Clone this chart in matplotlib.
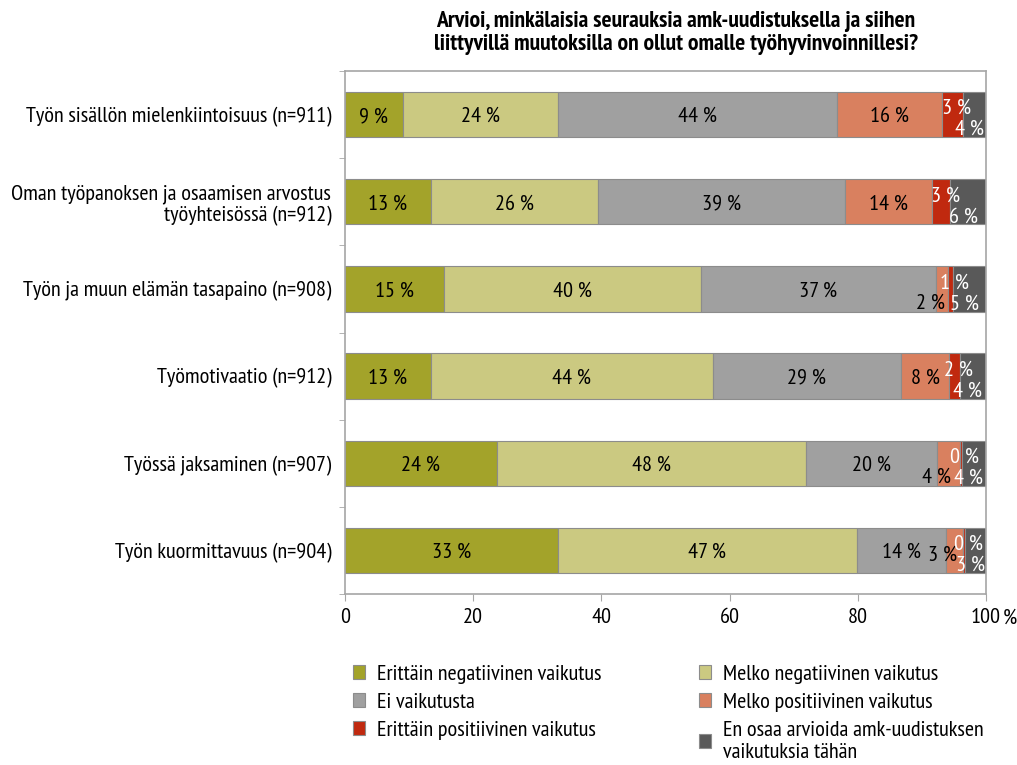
import matplotlib
matplotlib.use("Agg")
import matplotlib.pyplot as plt
from matplotlib.patches import Patch
import numpy as np

# Data
categories = [
    "Työn sisällön mielenkiintoisuus (n=911)",
    "Oman työpanoksen ja osaamisen arvostus\ntyöyhteisössä (n=912)",
    "Työn ja muun elämän tasapaino (n=908)",
    "Työmotivaatio (n=912)",
    "Työssä jaksaminen (n=907)",
    "Työn kuormittavuus (n=904)",
]
series_names = [
    "Erittäin negatiivinen vaikutus",
    "Melko negatiivinen vaikutus",
    "Ei vaikutusta",
    "Melko positiivinen vaikutus",
    "Erittäin positiivinen vaikutus",
    "En osaa arvioida amk-uudistuksen\nvaikutuksia tähän",
]
erittain_neg = [9.0, 13.4, 15.4, 13.4, 23.7, 33.2]
melko_neg = [24.2, 26.0, 40.1, 44.0, 48.2, 46.6]
ei_vaikutusta = [43.6, 38.6, 36.7, 29.3, 20.4, 13.9]
melko_pos = [16.4, 13.6, 1.9, 7.6, 3.6, 2.7]
erittain_pos = [3.2, 2.8, 0.8, 1.6, 0.3, 0.4]
en_osaa = [3.6, 5.6, 5.1, 4.1, 3.8, 3.2]
series = [erittain_neg, melko_neg, ei_vaikutusta, melko_pos, erittain_pos, en_osaa]

colors = ["#a3a32a", "#cbc981", "#a0a0a0", "#d9805f", "#c0290f", "#595959"]
text_colors = ["black", "black", "black", "black", "white", "white"]
title = "Arvioi, minkälaisia seurauksia amk-uudistuksella ja siihen\nliittyvillä muutoksilla on ollut omalle työhyvinvoinnillesi?"

plt.rcParams["font.family"] = ["PT Sans Narrow", "DejaVu Sans"]
plt.rcParams["font.size"] = 16

fig = plt.figure(figsize=(10.17, 7.65), dpi=100)
ax = fig.add_axes([345 / 1017, 1 - 594 / 765, 641 / 1017, 523 / 765])

y = np.arange(len(categories))
left = np.zeros(len(categories))
for k, vals in enumerate(series):
    vals = np.array(vals)
    ax.barh(y, vals, left=left, height=0.52, color=colors[k],
            edgecolor="#8c8c8c", linewidth=0.8, zorder=2)
    for i, v in enumerate(vals):
        cx = left[i] + v / 2
        dx, dy = 0, -2
        if k == 3 and v < 5:
            dx, dy = -12, -14 if i != 5 else -5
        elif k == 4:
            dx, dy = 4, 6
        elif k == 5:
            dx, dy = -5, -15
        ax.annotate(f"{v:.0f} %", xy=(cx, i), xytext=(dx, dy),
                    textcoords="offset pixels", ha="center", va="center",
                    color=text_colors[k], fontsize=16, zorder=3)
    left += vals

ax.set_xlim(0, 100)
ax.set_ylim(len(categories) - 0.5, -0.5)
ax.set_xticks([0, 20, 40, 60, 80, 100])
ax.set_yticks(y)
ax.set_yticklabels(categories, fontsize=16, linespacing=1.15)
ax.set_yticks(np.arange(-0.5, len(categories)), minor=True)
ax.tick_params(axis="y", which="major", length=0, pad=10)
ax.tick_params(axis="y", which="minor", length=4, color="#a6a6a6")
ax.tick_params(axis="x", length=5, color="#a6a6a6", labelsize=16, pad=5)
for s in ax.spines.values():
    s.set_color("#a6a6a6")
    s.set_linewidth(1.2)
ax.annotate("%", xy=(1, 0), xycoords="axes fraction", xytext=(24, -24),
            textcoords="offset pixels", ha="center", va="center", fontsize=16)

fig.text(676 / 1017, 1 - 11 / 765, title, ha="center", va="top",
         fontsize=17, fontweight="bold", linespacing=1.15)

handles = [Patch(facecolor=c, edgecolor="#8c8c8c", linewidth=0.8) for c in colors]
leg_kw = dict(frameon=False, fontsize=16, handlelength=0.55, handleheight=0.55,
              handletextpad=0.55, labelspacing=0.4, borderpad=0, borderaxespad=0)
fig.legend(handles[0::2], series_names[0::2], loc="upper left",
           bbox_to_anchor=(353 / 1017, 1 - 665 / 765), **leg_kw)
fig.legend(handles[1::2], series_names[1::2], loc="upper left",
           bbox_to_anchor=(699 / 1017, 1 - 665 / 765), **leg_kw)

fig.savefig("out.png", dpi=100)
